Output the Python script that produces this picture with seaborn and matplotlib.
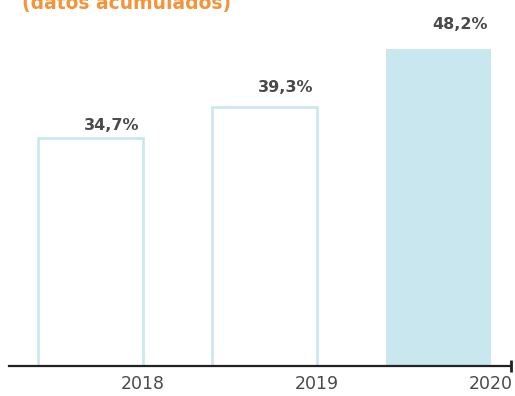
import matplotlib
matplotlib.use("Agg")
import matplotlib.pyplot as plt
import seaborn as sns
import pandas as pd

# Data
years = ["2018", "2019", "2020"]
values = [34.7, 39.3, 48.2]
title = "(datos acumulados)"

sns.set_theme(style="white")
plt.rcParams["font.family"] = ["DejaVu Sans"]

W, H, DPI = 515, 396, 100
fig = plt.figure(figsize=(W / DPI, H / DPI), dpi=DPI)

# axes: bottom spine at y=365 px, spanning x 9..511 px
axis_y = 365.5
ax = fig.add_axes([9 / W, 1 - axis_y / H, 502 / W, axis_y / H])

light_blue = "#c8e7ee"
text_grey = "#4a4a4a"
orange = "#f59338"

df = pd.DataFrame({"year": years, "value": values})
sns.barplot(data=df, x="year", y="value", order=years, width=0.605,
            color=light_blue, ax=ax, saturation=1)

for i, patch in enumerate(ax.patches):
    if i < len(years) - 1:
        patch.set_facecolor("white")
        patch.set_edgecolor(light_blue)
        patch.set_linewidth(1.9)
    else:
        patch.set_facecolor(light_blue)
        patch.set_edgecolor("none")

px_per_unit = 6.57
ax.set_ylim(0, axis_y / px_per_unit)
spacing_px = 174.0
ax.set_xlim(-81.5 / spacing_px, 2 + 72.5 / spacing_px)

# value labels, right-aligned just inside each bar's right edge
label_gap_px = [8, 15, 20]
for i, v in enumerate(values):
    ax.text(i + 0.3 - 3 / spacing_px, v + label_gap_px[i] / px_per_unit,
            f"{v:.1f}".replace(".", ",") + "%",
            ha="right", va="baseline", fontsize=11.5, fontweight="bold",
            color=text_grey)

# ticks centered on each bar's right edge
ax.set_xticks([i + 0.3 for i in range(len(years))])
ax.set_xticklabels(years, fontsize=12.5, color=text_grey)
ax.tick_params(axis="x", length=0, pad=7)
ax.set_yticks([])
ax.set_xlabel("")
ax.set_ylabel("")

for s in ["top", "left", "right"]:
    ax.spines[s].set_visible(False)
ax.spines["bottom"].set_color("#222222")
ax.spines["bottom"].set_linewidth(1.6)
ax.spines["bottom"].set_zorder(5)

# end marker on the axis line
ax.plot([1], [0], transform=ax.transAxes, marker="|", markersize=9,
        markeredgewidth=2, color="#222222", clip_on=False, zorder=6)

fig.text(22 / W, 1 - 9 / H, title, ha="left", va="baseline",
         fontsize=13.5, fontweight="bold", color=orange)

fig.savefig("out.png", dpi=DPI)
